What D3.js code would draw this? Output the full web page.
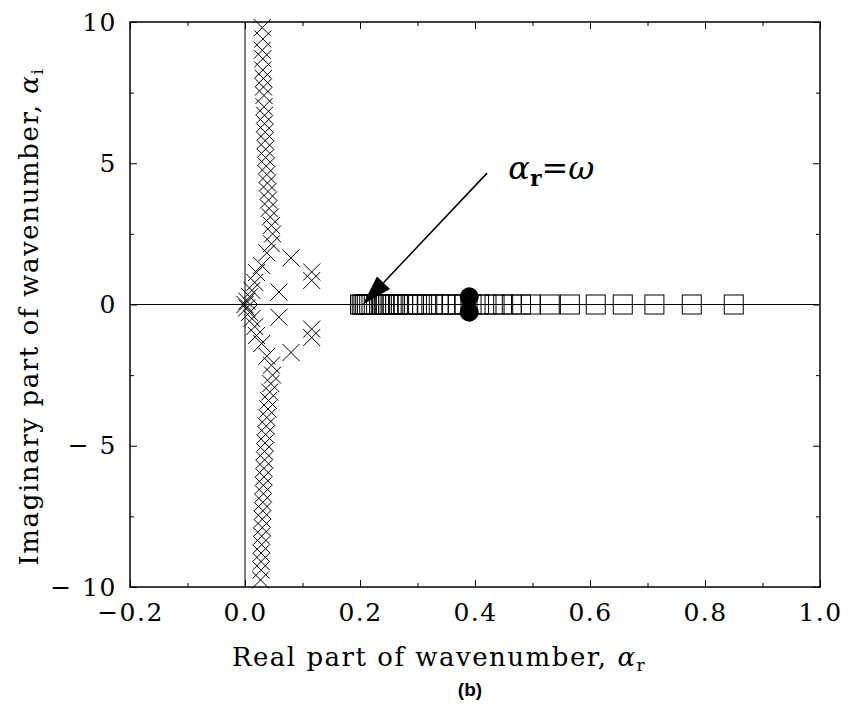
<!DOCTYPE html>
<html>
<head>
<meta charset="utf-8">
<script src="https://cdn.jsdelivr.net/npm/d3@7"></script>
<style>
  body { margin: 0; background: #fff; }
  text { font-family: "DejaVu Serif", serif; fill: #000; }
</style>
</head>
<body>
<div id="chartgoeshere"></div>
<script>
// Eigenvalue spectrum, real vs imaginary part of wavenumber

// Continuous spectrum crosses [alpha_r, alpha_i]
var crossesUpper = [
  [0.030, 9.8], [0.031, 9.4], [0.030, 9.0], [0.031, 8.7], [0.031, 8.3], [0.032, 8.0],
  [0.032, 7.7], [0.033, 7.4], [0.033, 7.0], [0.034, 6.7], [0.034, 6.4], [0.035, 6.1],
  [0.035, 5.8], [0.036, 5.5], [0.036, 5.2], [0.037, 4.9], [0.038, 4.6], [0.039, 4.3],
  [0.040, 4.0], [0.041, 3.7], [0.042, 3.4], [0.044, 3.1], [0.046, 2.8], [0.048, 2.5]
];
var crossesMiddle = [
  [0.046, 2.15], [0.038, 1.83], [0.080, 1.65], [0.029, 1.38], [0.020, 1.13],
  [0.116, 1.15], [0.116, 0.85], [0.017, 0.78], [0.012, 0.50], [0.059, 0.44],
  [0.008, 0.28], [0.003, 0.12], [0.000, 0.00], [0.003, -0.12], [0.008, -0.28],
  [0.012, -0.50], [0.059, -0.45], [0.017, -0.78], [0.116, -0.87], [0.116, -1.17],
  [0.020, -1.10], [0.029, -1.38], [0.080, -1.70], [0.038, -1.83], [0.046, -2.15]
];
var crossesLower = [
  [0.048, -2.5], [0.045, -2.8], [0.043, -3.1], [0.041, -3.4], [0.040, -3.7], [0.038, -4.0],
  [0.037, -4.3], [0.036, -4.6], [0.035, -4.9], [0.034, -5.2], [0.034, -5.5], [0.033, -5.8],
  [0.033, -6.1], [0.032, -6.4], [0.032, -6.7], [0.031, -7.0], [0.031, -7.3], [0.030, -7.6],
  [0.030, -7.9], [0.029, -8.2], [0.029, -8.5], [0.028, -8.8], [0.028, -9.1], [0.028, -9.4],
  [0.027, -9.75]
];

// Discrete modes on the real axis (squares), alpha_r values
var squaresRe = [
  0.200, 0.203, 0.206, 0.209, 0.212, 0.216, 0.220, 0.224, 0.228, 0.233, 0.238,
  0.243, 0.249, 0.255, 0.261, 0.268, 0.275, 0.283, 0.291, 0.299, 0.308, 0.317,
  0.327, 0.337, 0.348, 0.359, 0.370, 0.382, 0.394, 0.407, 0.420, 0.434, 0.449,
  0.464, 0.480, 0.497, 0.530, 0.565, 0.610, 0.657, 0.712, 0.777, 0.850
];

// Filled circles [alpha_r, alpha_i]
var circles = [[0.390, 0.27], [0.390, -0.27]];

// Tick values
var xMajor = [-0.2, 0.0, 0.2, 0.4, 0.6, 0.8, 1.0];
var xMinor = [-0.1, 0.1, 0.3, 0.5, 0.7, 0.9];
var yMajor = [-10, -5, 0, 5, 10];
var yMinor = [-7.5, -2.5, 2.5, 7.5];

// Arrow annotation (data coords: tail, tip)
var arrowTail = [0.421, 4.65];
var arrowTip = [0.205, 0.0];

var W = 849, H = 705;
var margin = { top: 22, right: 29, bottom: 118, left: 130 },
  width = W - margin.left - margin.right,
  height = H - margin.top - margin.bottom;

var x = d3.scaleLinear().domain([-0.2, 1.0]).range([0, width]);
var y = d3.scaleLinear().domain([-10, 10]).range([height, 0]);

var svg = d3.select("#chartgoeshere")
  .append("svg")
  .attr("width", W)
  .attr("height", H)
  .append("g")
  .attr("transform", "translate(" + margin.left + "," + margin.top + ")");

// Zero lines
svg.append("line")
  .attr("x1", 0).attr("x2", width)
  .attr("y1", y(0)).attr("y2", y(0))
  .attr("stroke", "#000").attr("stroke-width", 1);
svg.append("line")
  .attr("x1", x(0)).attr("x2", x(0))
  .attr("y1", 0).attr("y2", height)
  .attr("stroke", "#000").attr("stroke-width", 1);

// Crosses
var allCrosses = crossesUpper.concat(crossesMiddle, crossesLower);
var cs = 8.5;
svg.selectAll(".cross")
  .data(allCrosses)
  .enter()
  .append("path")
  .attr("class", "cross")
  .attr("d", function (d) {
    var cx = x(d[0]), cy = y(d[1]);
    return "M" + (cx - cs) + "," + (cy - cs) + "L" + (cx + cs) + "," + (cy + cs) +
      "M" + (cx - cs) + "," + (cy + cs) + "L" + (cx + cs) + "," + (cy - cs);
  })
  .attr("stroke", "#000")
  .attr("stroke-width", 1)
  .attr("fill", "none");

// Squares
var sq = 19;
svg.selectAll(".sq")
  .data(squaresRe)
  .enter()
  .append("rect")
  .attr("class", "sq")
  .attr("x", function (d) { return x(d) - sq / 2; })
  .attr("y", y(0) - sq / 2)
  .attr("width", sq)
  .attr("height", sq)
  .attr("fill", "none")
  .attr("stroke", "#000")
  .attr("stroke-width", 1);

// Circles
svg.selectAll(".dot")
  .data(circles)
  .enter()
  .append("circle")
  .attr("cx", function (d) { return x(d[0]); })
  .attr("cy", function (d) { return y(d[1]); })
  .attr("r", 9.5)
  .attr("fill", "#000");

// Arrow
var tx = x(arrowTail[0]), ty = y(arrowTail[1]);
var hx = x(arrowTip[0]), hy = y(arrowTip[1]);
var ang = Math.atan2(hy - ty, hx - tx);
var headLen = 30, headW = 9;
var bx = hx - headLen * Math.cos(ang), by = hy - headLen * Math.sin(ang);
svg.append("line")
  .attr("x1", tx).attr("y1", ty)
  .attr("x2", bx).attr("y2", by)
  .attr("stroke", "#000").attr("stroke-width", 1.5);
svg.append("path")
  .attr("d", "M" + hx + "," + hy +
    "L" + (bx + headW * Math.sin(ang)) + "," + (by - headW * Math.cos(ang)) +
    "L" + (bx - headW * Math.sin(ang)) + "," + (by + headW * Math.cos(ang)) + "Z")
  .attr("fill", "#000");

// Annotation label
var ann = svg.append("text")
  .attr("x", x(0.458))
  .attr("y", y(4.45))
  .style("font-size", "32px");
ann.append("tspan").style("font-style", "italic").text("α");
ann.append("tspan").attr("dy", 7).style("font-size", "22px").style("font-weight", "bold").text("r");
ann.append("tspan").attr("dy", -7).text("=");
ann.append("tspan").style("font-style", "italic").text("ω");

// Frame
svg.append("rect")
  .attr("x", 0).attr("y", 0)
  .attr("width", width).attr("height", height)
  .attr("fill", "none")
  .attr("stroke", "#000")
  .attr("stroke-width", 1.5);

// Ticks, pointing inwards, on all four sides
var xAxisB = svg.append("g").attr("transform", "translate(0," + height + ")");
xAxisB.call(d3.axisBottom(x).tickValues(xMajor).tickSize(-7).tickPadding(16)
  .tickFormat(function (d) { return d3.format(".1f")(d).replace("-", "−"); }));
xAxisB.append("g").call(d3.axisBottom(x).tickValues(xMinor).tickSize(-4).tickFormat(""));

var xAxisT = svg.append("g");
xAxisT.call(d3.axisTop(x).tickValues(xMajor).tickSize(-7).tickFormat(""));
xAxisT.append("g").call(d3.axisTop(x).tickValues(xMinor).tickSize(-4).tickFormat(""));

var yAxisL = svg.append("g");
yAxisL.call(d3.axisLeft(y).tickValues(yMajor).tickSize(-7).tickPadding(13)
  .tickFormat(function (d) { return d < 0 ? "− " + Math.abs(d) : d; }));
yAxisL.append("g").call(d3.axisLeft(y).tickValues(yMinor).tickSize(-4).tickFormat(""));

var yAxisR = svg.append("g").attr("transform", "translate(" + width + ",0)");
yAxisR.call(d3.axisRight(y).tickValues(yMajor).tickSize(-7).tickFormat(""));
yAxisR.append("g").call(d3.axisRight(y).tickValues(yMinor).tickSize(-4).tickFormat(""));

svg.selectAll(".domain").remove();
svg.selectAll(".tick line").attr("stroke", "#000");
svg.selectAll(".tick text")
  .style("font-family", "'DejaVu Serif', serif")
  .style("font-size", "25px")
  .style("letter-spacing", "1.5px");

// Axis labels
var xl = svg.append("text")
  .attr("x", width / 2 - 36)
  .attr("y", height + 79)
  .attr("text-anchor", "middle")
  .style("font-size", "26px")
  .style("letter-spacing", "1.5px")
  .text("Real part of wavenumber, ");
xl.append("tspan").style("font-style", "italic").text("α");
xl.append("tspan").attr("dy", 5).style("font-size", "17px").text("r");

var yl = svg.append("text")
  .attr("transform", "translate(" + (-margin.left + 38) + "," + (height / 2 + 12) + ") rotate(-90)")
  .attr("text-anchor", "middle")
  .style("font-size", "26px")
  .style("letter-spacing", "1.6px")
  .text("Imaginary part of wavenumber, ");
yl.append("tspan").style("font-style", "italic").text("α");
yl.append("tspan").attr("dy", 5).style("font-size", "17px").text("i");

// Panel tag
svg.append("text")
  .attr("x", width / 2 - 5)
  .attr("y", height + 109)
  .attr("text-anchor", "middle")
  .style("font-family", "Arial, 'Liberation Sans', sans-serif")
  .style("font-weight", "bold")
  .style("font-size", "19px")
  .text("(b)");
</script>
</body>
</html>
